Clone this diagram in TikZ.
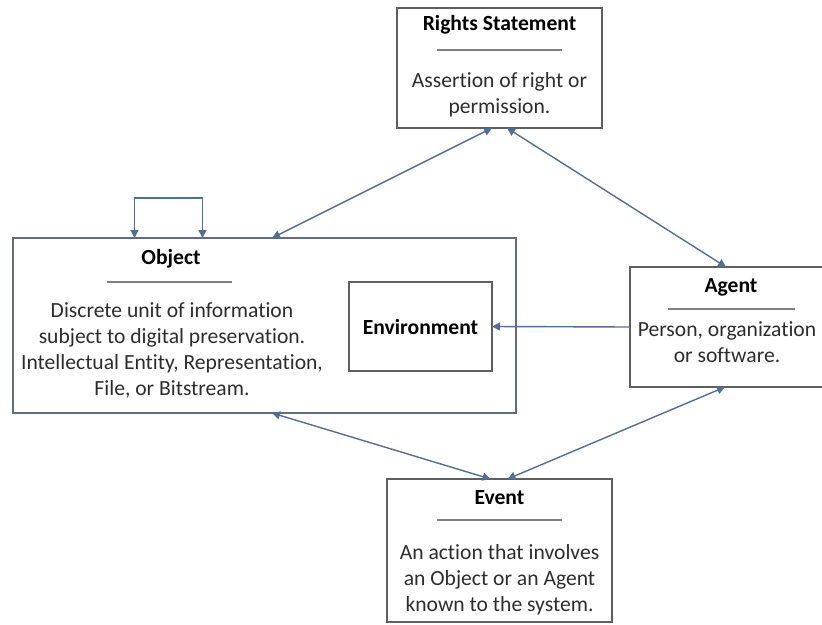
\documentclass[tikz,border=0pt]{standalone}
\usepackage{fontspec}
\setmainfont[Ligatures=NoCommon]{Carlito}
\usetikzlibrary{arrows.meta,positioning}
\definecolor{pmgray}{RGB}{95,95,95}
\definecolor{pmblue}{RGB}{80,110,150}
\definecolor{pmframe}{RGB}{96,108,128}
\definecolor{pmrule}{RGB}{128,128,128}
\definecolor{pmtext}{RGB}{45,45,45}
\tikzstyle{entity} = [rectangle, draw=pmgray, fill=white, line width=1.6pt, inner sep=0pt, outer sep=0pt]
\tikzstyle{heading} = [font=\fontsize{21.6}{26}\selectfont\bfseries, text=black]
\tikzstyle{desc} = [font=\fontsize{21.6}{26}\selectfont, text=pmtext, align=center]
\tikzstyle{divider} = [draw=pmrule, line width=1.2pt]
\tikzstyle{link} = [line width=1.4pt, color=pmblue, >={Triangle[length=8pt,width=8pt]}]

\begin{document}
\begin{tikzpicture}[x=1pt,y=-1pt]
\useasboundingbox (0,0) rectangle (822,624);
\clip (0,0) rectangle (822,624);

% Rights statement
\node[entity, minimum width=205pt, minimum height=120pt] (rights) at (499.5,68) {};
\node[heading] (rightsT) at (499.5,25) {Rights Statement};
\draw[divider] (437,50) -- (562,50);
\node[desc] at (499.5,95) {Assertion of right or\\permission.};

% Object, with environment inside
\node[entity, draw=pmframe, line width=2.5pt, minimum width=503pt, minimum height=175pt] (object) at (264.5,325.5) {};
\node[heading] (objectT) at (171,259) {Object};
\draw[divider] (107,282) -- (232,282);
\node[desc] at (172,350) {Discrete unit of information\\subject to digital preservation.\\Intellectual Entity, Representation,\\File, or Bitstream.};
\node[entity, minimum width=143pt, minimum height=89pt, font=\fontsize{21.6}{26}\selectfont\bfseries] (env) at (420.5,326.5) {Environment};

% Agent
\node[entity, minimum width=196pt, minimum height=120pt] (agent) at (728,327) {};
\node[heading] (agentT) at (731,287) {Agent};
\draw[divider] (668,309) -- (795,309);
\node[desc] at (727,342) {Person, organization\\or software.};

% Event
\node[entity, minimum width=225pt, minimum height=143pt] (event) at (499.5,550.5) {};
\node[heading] (eventT) at (499.5,498) {Event};
\draw[divider] (437,520) -- (562,520);
\node[desc] at (499.5,580) {An action that involves\\an Object or an Agent\\known to the system.};

% Relationships
\draw[link, <->] ([xshift=-130pt]object.north) -- ++(0,-40) -| ([xshift=-62pt]object.north);
\draw[link, <->] ([xshift=-7.5pt]rights.south) -- ([xshift=7.5pt]object.north);
\draw[link, <->] ([xshift=7.5pt]rights.south) -- ([xshift=-2pt]agent.north);
\draw[link, ->] (agent.west) -- (env.east);
\draw[link, <->] ([xshift=7.5pt]object.south) -- ([xshift=-9pt]event.north);
\draw[link, <->] ([xshift=8pt]event.north) -- ([xshift=-3pt]agent.south);
\end{tikzpicture}
\end{document}
